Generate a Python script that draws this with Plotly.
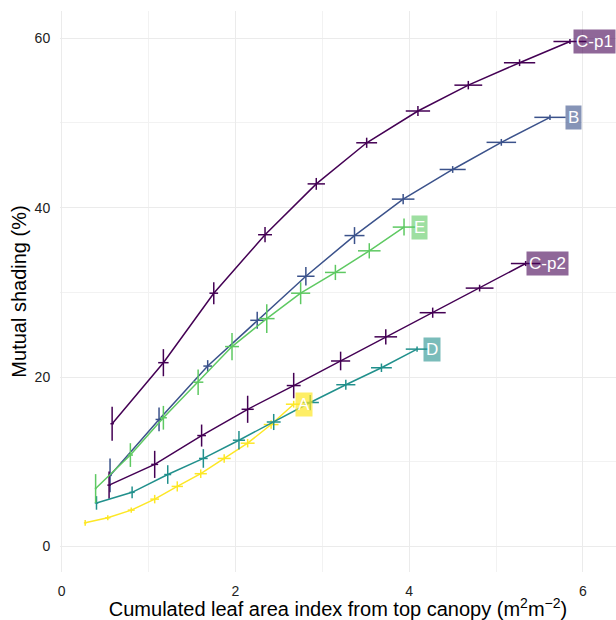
import plotly.graph_objects as go

# ---- data ----
series_names = ["A", "B", "C-p1", "C-p2", "D", "E"]

A_x = [0.27, 0.53, 0.80, 1.07, 1.33, 1.60, 1.87, 2.14, 2.41, 2.67]
A_y = [2.8, 3.4, 4.3, 5.6, 7.1, 8.6, 10.4, 12.2, 14.4, 16.8]
A_xerr = [0.015, 0.03, 0.04, 0.05, 0.065, 0.07, 0.075, 0.08, 0.085, 0.09]
A_yerr = [0.35, 0.3, 0.3, 0.5, 0.6, 0.5, 0.5, 0.5, 0.5, 0.4]

B_x = [0.556, 1.12, 1.68, 2.25, 2.81, 3.37, 3.93, 4.50, 5.06, 5.62]
B_y = [8.4, 15.0, 21.3, 26.7, 31.9, 36.7, 41.0, 44.5, 47.7, 50.65]
B_xerr = [0.02, 0.04, 0.05, 0.08, 0.10, 0.115, 0.13, 0.15, 0.17, 0.18]
B_yerr = [2.0, 1.4, 0.7, 1.0, 1.1, 1.0, 0.6, 0.4, 0.4, 0.3]

Cp1_x = [0.58, 1.17, 1.75, 2.34, 2.93, 3.51, 4.10, 4.68, 5.27, 5.85]
Cp1_y = [14.5, 21.7, 29.9, 36.8, 42.8, 47.65, 51.4, 54.45, 57.1, 59.6]
Cp1_xerr = [0.02, 0.06, 0.05, 0.08, 0.10, 0.12, 0.14, 0.16, 0.18, 0.19]
Cp1_yerr = [2.0, 1.6, 1.3, 0.9, 0.7, 0.6, 0.6, 0.5, 0.4, 0.3]

Cp2_x = [0.545, 1.07, 1.61, 2.14, 2.67, 3.21, 3.73, 4.27, 4.81, 5.34]
Cp2_y = [7.25, 9.7, 13.1, 16.2, 19.0, 21.9, 24.75, 27.6, 30.5, 33.4]
Cp2_xerr = [0.02, 0.04, 0.05, 0.07, 0.08, 0.11, 0.13, 0.15, 0.16, 0.17]
Cp2_yerr = [1.6, 1.6, 1.3, 1.6, 1.5, 1.1, 0.9, 0.6, 0.4, 0.3]

D_x = [0.40, 0.81, 1.22, 1.63, 2.04, 2.44, 2.86, 3.27, 3.68, 4.09]
D_y = [5.15, 6.4, 8.5, 10.4, 12.55, 14.7, 17.0, 19.1, 21.1, 23.3]
D_xerr = [0.02, 0.03, 0.04, 0.05, 0.07, 0.08, 0.10, 0.11, 0.12, 0.13]
D_yerr = [0.8, 0.7, 1.1, 1.1, 1.1, 0.95, 0.9, 0.6, 0.5, 0.3]

E_x = [0.39, 0.79, 1.17, 1.57, 1.96, 2.36, 2.75, 3.15, 3.54, 3.94]
E_y = [6.85, 10.8, 15.2, 19.4, 23.6, 26.9, 29.9, 32.35, 34.9, 37.7]
E_xerr = [0.01, 0.03, 0.04, 0.06, 0.08, 0.09, 0.11, 0.12, 0.13, 0.13]
E_yerr = [1.7, 1.4, 1.4, 1.5, 1.6, 1.7, 1.3, 0.9, 0.9, 1.0]

x_ticks = [0, 2, 4, 6]
y_ticks = [0, 20, 40, 60]

# ---- style ----
FONT = "Liberation Sans, Arial, sans-serif"
line_colors = {"A": "#fde725", "B": "#3b528b", "C-p1": "#440154",
               "C-p2": "#440154", "D": "#21908c", "E": "#5ec962"}
box_colors = {"A": "rgba(253,231,37,0.7)", "B": "rgba(59,82,139,0.62)",
              "C-p1": "rgba(68,1,84,0.6)", "C-p2": "rgba(68,1,84,0.6)",
              "D": "rgba(33,144,140,0.6)", "E": "rgba(94,201,98,0.6)"}
label_xshift = {"A": 1, "B": 15, "C-p1": 3, "C-p2": 0, "D": 6, "E": 7}

data = {
    "A": (A_x, A_y, A_xerr, A_yerr),
    "B": (B_x, B_y, B_xerr, B_yerr),
    "C-p1": (Cp1_x, Cp1_y, Cp1_xerr, Cp1_yerr),
    "C-p2": (Cp2_x, Cp2_y, Cp2_xerr, Cp2_yerr),
    "D": (D_x, D_y, D_xerr, D_yerr),
    "E": (E_x, E_y, E_xerr, E_yerr),
}

fig = go.Figure()
annotations = []
for name in series_names:
    xs, ys, xe, ye = data[name]
    col = line_colors[name]
    fig.add_trace(go.Scatter(
        x=xs, y=ys, mode="lines", name=name, showlegend=False,
        line=dict(color=col, width=1.5),
        error_x=dict(type="data", array=xe, color=col, thickness=1.5, width=0),
        error_y=dict(type="data", array=ye, color=col, thickness=1.5, width=0),
    ))
    annotations.append(dict(
        x=xs[-1], y=ys[-1], xref="x", yref="y", text=name, showarrow=False,
        xanchor="left", yanchor="middle", xshift=label_xshift[name],
        font=dict(family=FONT, size=17, color="white"),
        bgcolor=box_colors[name], borderpad=2,
    ))

fig.update_layout(
    width=616, height=620,
    margin=dict(l=60, r=0, t=11, b=48),
    plot_bgcolor="white", paper_bgcolor="white",
    font=dict(family=FONT, color="#222222"),
    annotations=annotations,
    xaxis=dict(
        range=[-0.02, 6.38], tickvals=x_ticks, ticktext=[str(t) for t in x_ticks],
        showgrid=True, gridcolor="#ebebeb", gridwidth=1, zeroline=False,
        minor=dict(dtick=1, showgrid=True, gridcolor="#f2f2f2", gridwidth=0.6),
        ticks="outside", ticklen=6, tickcolor="rgba(0,0,0,0)",
        tickfont=dict(family=FONT, size=14, color="#222222"),
        title=dict(text="Cumulated leaf area index from top canopy (m<sup>2</sup>m<sup>−2</sup>)",
                   font=dict(family=FONT, size=20, color="#000000"), standoff=4),
        showline=False,
    ),
    yaxis=dict(
        range=[-3.0, 63.2], tickvals=y_ticks, ticktext=[str(t) for t in y_ticks],
        showgrid=True, gridcolor="#ebebeb", gridwidth=1, zeroline=False,
        minor=dict(dtick=10, showgrid=True, gridcolor="#f2f2f2", gridwidth=0.6),
        ticks="outside", ticklen=6, tickcolor="rgba(0,0,0,0)",
        tickfont=dict(family=FONT, size=14, color="#222222"),
        title=dict(text="Mutual shading (%)", font=dict(family=FONT, size=20, color="#000000"), standoff=2),
        showline=False,
    ),
)

fig.write_html("out.html")
